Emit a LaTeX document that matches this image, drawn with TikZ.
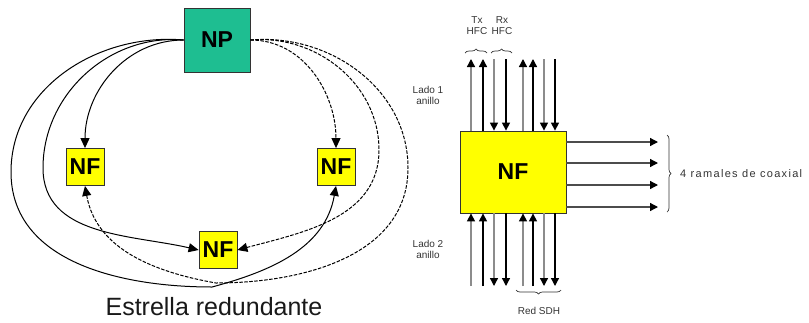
\documentclass[tikz,border=0pt]{standalone}
\usepackage{fontspec}
\setmainfont{Liberation Sans}
\usetikzlibrary{arrows.meta,decorations.pathreplacing}

\definecolor{npgreen}{RGB}{30,190,145}
\definecolor{nfyellow}{RGB}{255,255,0}

\tikzset{
  box/.style={draw=black!80,line width=0.8pt,font=\bfseries\fontsize{23}{23}\selectfont,inner sep=0pt},
  np/.style={box,fill=npgreen,minimum width=66pt,minimum height=64pt},
  nf/.style={box,fill=nfyellow,minimum width=38pt,minimum height=37pt},
  nfbig/.style={box,fill=nfyellow,minimum width=106pt,minimum height=82pt},
  link/.style={line width=1pt,-{Triangle[length=10pt,width=9pt]}},
  dlink/.style={link,dash pattern=on 3.5pt off 1.5pt},
  bus/.style={line width=1.3pt,-{Triangle[length=8pt,width=8pt,color=black]}},
  lbl/.style={font=\fontsize{10}{11}\selectfont,text=black!80,align=center,inner sep=0pt},
  curly/.style={draw=black!80,line width=0.7pt,decorate,decoration={brace,amplitude=4pt}}
}

\begin{document}
\begin{tikzpicture}[x=1pt,y=-1pt]
\useasboundingbox (0,0) rectangle (809,322);

% estrella redundante
\node[np] (NP) at (217,40) {NP};
\node[nf] (NFa) at (85,167) {NF};
\node[nf] (NFb) at (336,167) {NF};
\node[nf] (NFc) at (218,250) {NF};

\coordinate (L1) at (11,172);
\coordinate (L2) at (43,168);
\coordinate (R1) at (408,168);
\coordinate (R2) at (379,150);
\coordinate (BL) at (212,287);
\coordinate (BR) at (216,283);

\draw[link] (NP.west) to[out=180,in=90] (NFa.north);
\draw[link] (NP.west) to[out=175,in=90] (L2) to[out=-90,in=167] (NFc.west);
\draw[link] (NP.west) to[out=175,in=90] (L1) to[out=-90,in=180] (BL) to[out=15,in=-100] (NFb.south);

\draw[dlink] (NP.east) to[out=0,in=90] (NFb.north);
\draw[dlink] (NP.east) to[out=5,in=90] (R2) to[out=-90,in=15] (NFc.east);
\draw[dlink] (NP.east) to[out=5,in=90] (R1) to[out=-90,in=0] (BR) to[out=170,in=-80] (NFa.south);

\node[font=\fontsize{25}{25}\selectfont,text=black!90] (title) at (214,307) {Estrella redundante};

% nodo de fibra
\node[nfbig] (NF) at (513,172) {NF};

\foreach \x [count=\i] in {471,483,494,506,523,533,544,555} {
  \coordinate (T\i) at (\x,59);
  \coordinate (B\i) at (\x,286);
}

\foreach \i/\c in {1/black!45,2/black,5/black!45,6/black} {
  \draw[bus,\c] (T\i |- NF.north) -- (T\i);
  \draw[bus,\c] (B\i) -- (B\i |- NF.south);
}
\foreach \i/\c in {3/black!45,4/black,7/black!45,8/black} {
  \draw[bus,\c] (T\i) -- (T\i |- NF.north);
  \draw[bus,\c] (B\i |- NF.south) -- (B\i);
}

\foreach \y [count=\i] in {142,163,185,207} {
  \coordinate (H\i) at (658,\y);
  \draw[bus,black!70] (NF.east |- H\i) -- (H\i);
}

% llaves y textos
\draw[curly] (465,53) -- (487,53);
\draw[curly] (491,53) -- (512,53);
\draw[curly] (561,290) -- (516,290);
\draw[curly] (667,135) -- (667,212);

\node[lbl] (tx) at (477,26) {Tx\\HFC};
\node[lbl] (rx) at (502,26) {Rx\\HFC};
\node[lbl] (lado1) at (428,95) {Lado 1\\anillo};
\node[lbl] (lado2) at (428,249) {Lado 2\\anillo};
\node[lbl] (sdh) at (539,311) {Red SDH};
\node[lbl,anchor=west,font=\fontsize{11}{12}\selectfont\addfontfeature{LetterSpace=12}] (coax) at (680,174) {4 ramales de coaxial};
\end{tikzpicture}
\end{document}
